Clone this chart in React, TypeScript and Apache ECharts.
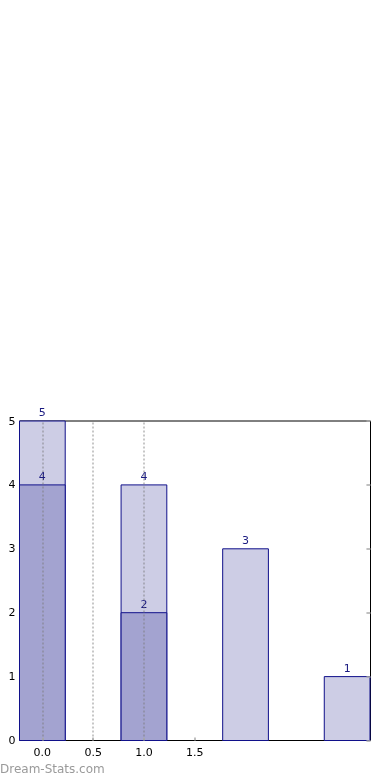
import React, { useEffect, useRef } from "react";
import * as echarts from "echarts";

const positions = [0, 1, 2, 3];
const totals = [5, 4, 3, 1];
const subsetPositions = [0, 1];
const subsetValues = [4, 2];
const xTickValues = [0, 0.5, 1, 1.5];
const xTickLabels = ["0.0", "0.5", "1.0", "1.5"];
const xGridValues = [0, 0.5, 1];
const yTicks = [0, 1, 2, 3, 4, 5];
const BAR_W = 0.45;

function barRenderer(fill: string) {
  return (params: any, api: any) => {
    const x = api.value(0);
    const y = api.value(1);
    const p0 = api.coord([x - BAR_W / 2, 0]);
    const p1 = api.coord([x + BAR_W / 2, y]);
    return {
      type: "group",
      children: [
        {
          type: "rect",
          shape: { x: p0[0], y: p1[1], width: p1[0] - p0[0], height: p0[1] - p1[1] },
          style: { fill, stroke: "#10108a", lineWidth: 1 },
        },
        {
          type: "text",
          x: (p0[0] + p1[0]) / 2,
          y: p1[1] - 3,
          style: {
            text: String(y),
            fill: "#1a1a80",
            font: "11px 'DejaVu Sans'",
            align: "center",
            verticalAlign: "bottom",
          },
        },
      ],
    };
  };
}

export default function App() {
  const ref = useRef<HTMLDivElement>(null);
  useEffect(() => {
    const chart = echarts.init(ref.current!, undefined, { renderer: "svg" });
    chart.setOption({
      animation: false,
      grid: {
        left: 19.5,
        right: 19.5,
        top: 421,
        bottom: 39.5,
        show: true,
        borderColor: "#000",
        borderWidth: 1,
        backgroundColor: "transparent",
      },
      xAxis: {
        type: "value",
        min: -0.225,
        max: 3.23,
        z: 10,
        axisLine: { show: false },
        axisTick: {
          show: true,
          inside: true,
          length: 3,
          customValues: xTickValues,
          lineStyle: { color: "#aaa", width: 1.5 },
        },
        axisLabel: {
          customValues: xTickValues,
          formatter: (v: number) => {
            const i = xTickValues.indexOf(v);
            return i >= 0 ? xTickLabels[i] : "";
          },
          color: "#000",
          fontFamily: "DejaVu Sans",
          fontSize: 11,
          margin: 6,
        },
        splitLine: { show: false },
      },
      yAxis: {
        type: "value",
        min: 0,
        max: 5,
        interval: 1,
        axisLine: { show: false },
        axisTick: { show: false },
        axisLabel: {
          formatter: (v: number) => (yTicks.includes(v) ? String(v) : ""),
          color: "#000",
          fontFamily: "DejaVu Sans",
          fontSize: 11,
          margin: 4,
        },
        splitLine: { show: false },
      },
      series: [
        {
          type: "custom",
          renderItem: barRenderer("#cdcde5"),
          data: positions.map((p, i) => [p, totals[i]]),
          z: 2,
        },
        {
          type: "custom",
          renderItem: barRenderer("#a3a3d0"),
          data: subsetPositions.map((p, i) => [p, subsetValues[i]]),
          z: 3,
          markLine: {
            silent: true,
            symbol: "none",
            label: { show: false },
            lineStyle: { color: "rgba(120,120,120,0.55)", type: [2, 2], width: 1.5 },
            data: xGridValues.map((v) => ({ xAxis: v })),
            z: 5,
          },
        },
        {
          type: "line",
          yAxisIndex: 0,
          data: [],
          markLine: {
            silent: true,
            symbol: "none",
            label: { show: false },
            lineStyle: { color: "#aaa", type: "solid", width: 1.5 },
            data: yTicks.map((v) => [
              { coord: [3.23, v] },
              { coord: [3.23 - 0.04, v] },
            ]),
          },
        },
      ],
      graphic: [
        {
          type: "text",
          left: 0,
          top: 763,
          style: {
            text: "Dream-Stats.com",
            fill: "#9a9a9a",
            font: "12px 'DejaVu Sans'",
          },
        },
      ],
    });
    return () => chart.dispose();
  }, []);
  return (
    <div
      ref={ref}
      style={{ position: "fixed", left: 0, top: 0, width: 390, height: 780 }}
    />
  );
}
